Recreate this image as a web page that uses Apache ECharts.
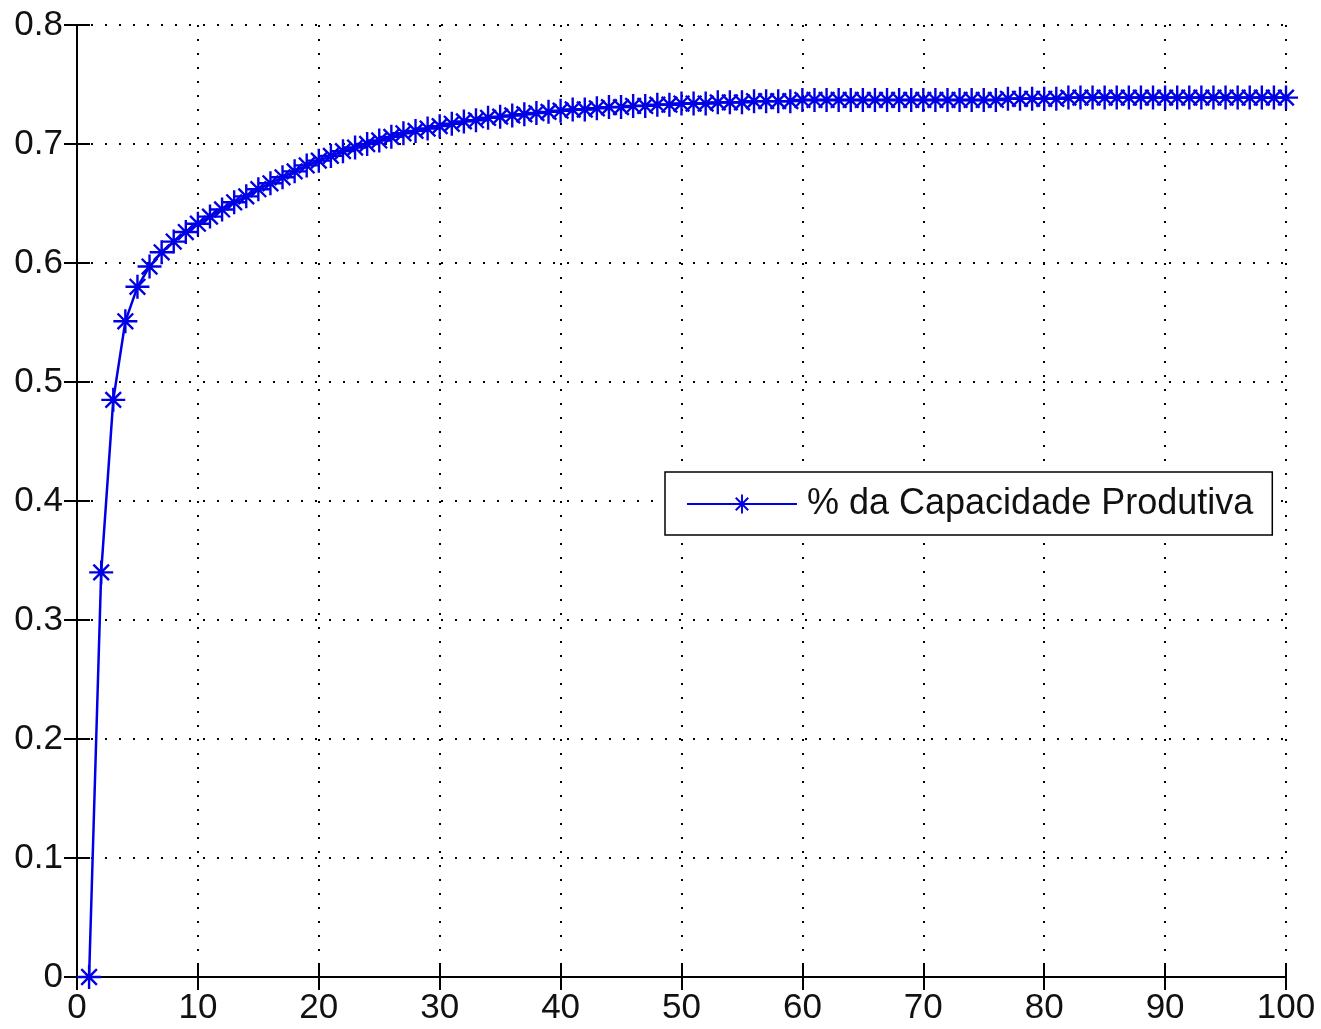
<!DOCTYPE html>
<html lang="pt">
<head>
    <meta charset="UTF-8">
    <title>% da Capacidade Produtiva</title>
    <script src="https://cdn.jsdelivr.net/npm/echarts@6/dist/echarts.min.js"></script>
    <style>
        html, body { margin: 0; padding: 0; background: #fff; }
        #chart { width: 1321px; height: 1029px; }
    </style>
</head>
<body>
    <div id="chart"></div>
    <script type="text/javascript">
        // dados (x = 1..100)
        var capacidade = [
            0, 0.340, 0.485, 0.551, 0.580, 0.597, 0.609, 0.618, 0.626, 0.633,
            0.639, 0.645, 0.651, 0.656, 0.662, 0.667, 0.672, 0.677, 0.682, 0.686,
            0.690, 0.694, 0.697, 0.700, 0.703, 0.706, 0.709, 0.711, 0.713, 0.715,
            0.717, 0.719, 0.720, 0.722, 0.723, 0.724, 0.725, 0.726, 0.727, 0.728,
            0.729, 0.729, 0.730, 0.731, 0.731, 0.732, 0.732, 0.733, 0.733, 0.734,
            0.734, 0.734, 0.735, 0.735, 0.735, 0.736, 0.736, 0.736, 0.736, 0.737,
            0.737, 0.737, 0.737, 0.737, 0.737, 0.737, 0.737, 0.737, 0.737, 0.737,
            0.737, 0.737, 0.737, 0.737, 0.737, 0.737, 0.738, 0.738, 0.738, 0.738,
            0.738, 0.739, 0.739, 0.739, 0.739, 0.739, 0.739, 0.739, 0.739, 0.739,
            0.739, 0.739, 0.739, 0.739, 0.739, 0.739, 0.739, 0.739, 0.739, 0.739
        ];
        var serieNome = '% da Capacidade Produtiva';

        var pontos = capacidade.map(function (v, i) { return [i + 1, v]; });

        // asterisco estilo matlab
        var estrela = 'path://M0,45L100,45L100,55L0,55Z' +
            'M45,0L55,0L55,100L45,100Z' +
            'M14,21L21,14L86,79L79,86Z' +
            'M79,14L86,21L21,86L14,79Z';

        var fonte = '"Liberation Sans", Arial, sans-serif';
        var preto = '#000';

        var chart = echarts.init(document.getElementById('chart'));
        var option = {
            backgroundColor: '#fff',
            animation: false,
            grid: { left: 77, right: 35, top: 25, bottom: 52 },
            legend: {
                data: [serieNome],
                left: 665,
                top: 472,
                backgroundColor: '#fff',
                borderColor: preto,
                borderWidth: 1.5,
                borderRadius: 0,
                padding: [14, 19, 13, 21],
                itemWidth: 110,
                itemHeight: 24,
                itemGap: 0,
                textStyle: { fontFamily: fonte, fontSize: 36, color: '#111', padding: [0, 0, 0, 5] }
            },
            xAxis: [{
                type: 'value', min: 0, max: 100, interval: 10,
                axisLine: { lineStyle: { color: preto, width: 2 } },
                axisTick: { inside: true, length: 13, lineStyle: { color: preto, width: 2 } },
                axisLabel: { fontFamily: fonte, fontSize: 35, color: '#111', margin: 14 },
                splitLine: { show: true, lineStyle: { color: preto, width: 2, type: [2, 12] } }
            }, {
                type: 'value', min: 0, max: 100, interval: 10, position: 'top',
                axisLine: { lineStyle: { color: preto, width: 2 } },
                axisTick: { inside: true, length: 13, lineStyle: { color: preto, width: 2 } },
                axisLabel: { show: false },
                splitLine: { show: false }
            }],
            yAxis: [{
                type: 'value', min: 0, max: 0.8, interval: 0.1,
                axisLine: { show: true, lineStyle: { color: preto, width: 2 } },
                axisTick: { show: true, inside: true, length: 13, lineStyle: { color: preto, width: 2 } },
                axisLabel: { fontFamily: fonte, fontSize: 35, color: '#111', margin: 14 },
                splitLine: { show: true, lineStyle: { color: preto, width: 2, type: [2, 12] } }
            }, {
                type: 'value', min: 0, max: 0.8, interval: 0.1, position: 'right',
                axisLine: { show: true, lineStyle: { color: preto, width: 2 } },
                axisTick: { show: true, inside: true, length: 13, lineStyle: { color: preto, width: 2 } },
                axisLabel: { show: false },
                splitLine: { show: false }
            }],
            series: [{
                name: serieNome,
                type: 'line',
                data: pontos,
                symbol: estrela,
                symbolSize: 24,
                showAllSymbol: true,
                lineStyle: { color: '#0000e6', width: 2.5 },
                itemStyle: { color: '#0000e6' }
            }]
        };
        chart.setOption(option);
    </script>
</body>
</html>
